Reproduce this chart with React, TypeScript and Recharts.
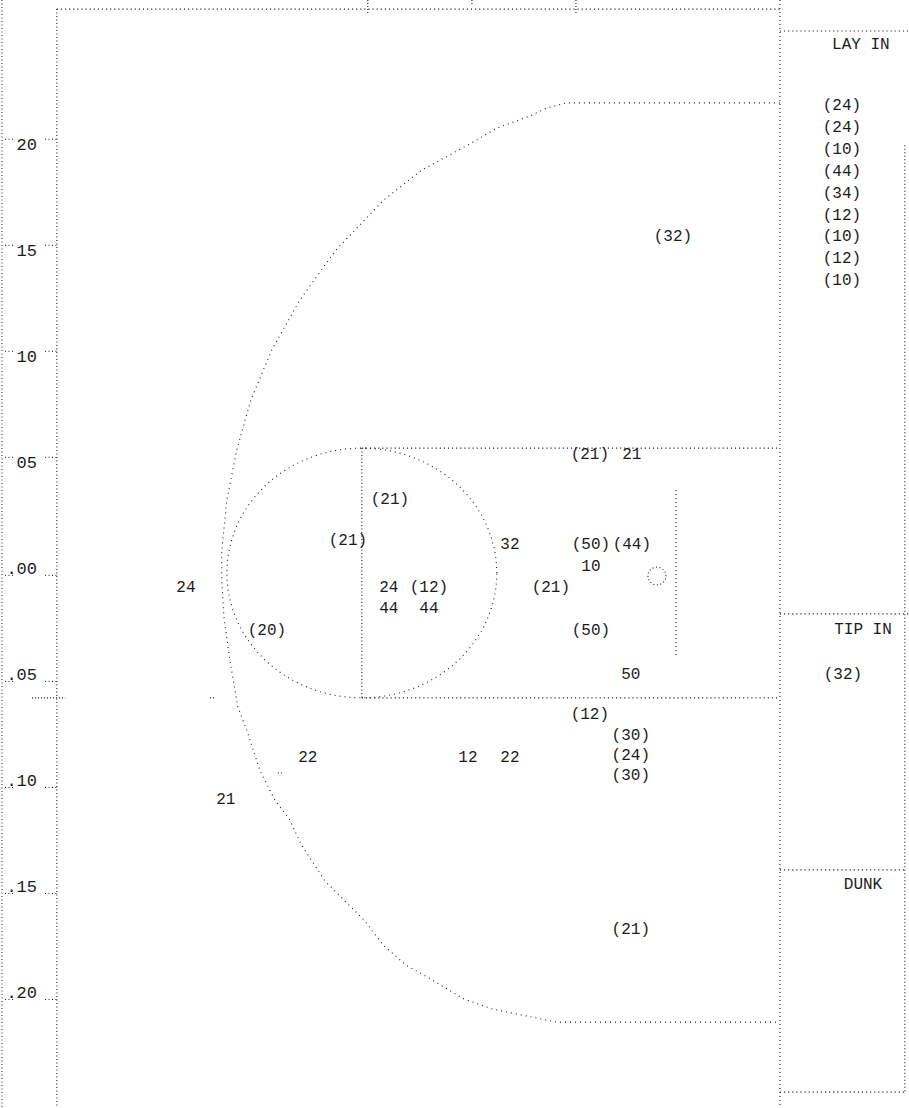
import React from 'react';
import { ComposedChart, Line, Scatter, XAxis, YAxis } from 'recharts';

// ---------- axis ----------
const yTicks = [20, 15, 10, 5, 0, -5, -10, -15, -20];
const yTickLabels = ['20', '15', '10', '05', '.00', '.05', '.10', '.15', '.20'];
const xDomain = [-31, 12];
const yDomain = [-25.4, 26.85];

// ---------- court geometry (court units, hoop near origin) ----------
const topBorder = [{ x: -28.4, y: 26.42 }, { x: 6.02, y: 26.42 }];
const leftBorder = [{ x: -28.4, y: 26.42 }, { x: -28.4, y: -25.4 }];
const baseline = [{ x: 5.88, y: 26.85 }, { x: 5.88, y: -25.4 }];
const laneTop = [{ x: -13.94, y: 5.72 }, { x: 5.88, y: 5.72 }];
const laneBottom = [{ x: -13.94, y: -6.06 }, { x: 5.88, y: -6.06 }];
const freeThrowLine = [{ x: -13.94, y: 5.72 }, { x: -13.94, y: -6.06 }];
const backboard = [{ x: 0.95, y: 3.74 }, { x: 0.95, y: -4.13 }];
const freeThrowCircle = { cx: -13.94, cy: -0.17, rx: 6.4, ry: 5.89 };
const hoop = { cx: 0.05, cy: -0.31, rx: 0.43, ry: 0.42 };
const threePointLine = [
  { x: 5.88, y: 22.0 }, { x: -4.22, y: 22.0 }, { x: -5.17, y: 21.76 }, { x: -5.97, y: 21.38 },
  { x: -7.54, y: 20.81 }, { x: -8.91, y: 20.01 }, { x: -11.1, y: 18.83 }, { x: -12.9, y: 17.42 },
  { x: -15.17, y: 15.06 }, { x: -16.88, y: 12.7 }, { x: -18.21, y: 10.35 }, { x: -19.2, y: 7.99 },
  { x: -19.87, y: 5.63 }, { x: -20.34, y: 3.27 }, { x: -20.58, y: 0.91 }, { x: -20.58, y: -0.5 },
  { x: -20.48, y: -2.24 }, { x: -20.2, y: -4.27 }, { x: -19.82, y: -6.48 }, { x: -19.35, y: -7.71 },
  { x: -18.78, y: -9.46 }, { x: -18.07, y: -10.87 }, { x: -17.35, y: -11.82 }, { x: -16.83, y: -12.95 },
  { x: -15.69, y: -14.69 }, { x: -14.6, y: -15.78 }, { x: -13.8, y: -16.58 }, { x: -12.94, y: -17.71 },
  { x: -11.85, y: -18.66 }, { x: -10.76, y: -19.27 }, { x: -9.1, y: -20.26 }, { x: -7.73, y: -20.74 },
  { x: -6.35, y: -21.02 }, { x: -4.69, y: -21.35 }, { x: 5.88, y: -21.35 },
];

// ---------- side panel ----------
const panelTop = [{ x: 5.88, y: 25.39 }, { x: 12, y: 25.39 }];
const panelRight = [{ x: 11.8, y: 20.0 }, { x: 11.8, y: -24.65 }];
const tipInDivider = [{ x: 5.88, y: -2.1 }, { x: 12, y: -2.1 }];
const dunkDivider = [{ x: 5.88, y: -14.17 }, { x: 11.8, y: -14.17 }];
const panelBottom = [{ x: 5.88, y: -24.65 }, { x: 11.8, y: -24.65 }];

// ---------- small stray marks ----------
const strayMarks = [
  [{ x: -13.66, y: 26.85 }, { x: -13.66, y: 26.2 }],
  [{ x: -8.72, y: 26.85 }, { x: -8.72, y: 26.6 }],
  [{ x: -3.79, y: 26.85 }, { x: -3.79, y: 26.2 }],
  [{ x: -29.58, y: -6.06 }, { x: -28.0, y: -6.06 }],
  [{ x: -21.14, y: -6.06 }, { x: -20.86, y: -6.06 }],
  [{ x: -17.92, y: -9.6 }, { x: -17.68, y: -9.6 }],
];

// ---------- shot labels (player numbers; parentheses = missed) ----------
const shotLabels = [
  { x: 0.81, y: 15.67, label: '(32)' },
  { x: -3.13, y: 5.4, label: '(21)' },
  { x: -1.14, y: 5.4, label: '21' },
  { x: -12.61, y: 3.27, label: '(21)' },
  { x: -14.6, y: 1.34, label: '(21)' },
  { x: -6.92, y: 1.15, label: '32' },
  { x: -3.08, y: 1.15, label: '(50)' },
  { x: -1.14, y: 1.15, label: '(44)' },
  { x: -3.08, y: 0.11, label: '10' },
  { x: -4.98, y: -0.88, label: '(21)' },
  { x: -12.66, y: -0.88, label: '24' },
  { x: -10.76, y: -0.88, label: '(12)' },
  { x: -12.66, y: -1.86, label: '44' },
  { x: -10.76, y: -1.86, label: '44' },
  { x: -22.28, y: -0.88, label: '24' },
  { x: -18.44, y: -2.9, label: '(20)' },
  { x: -3.08, y: -2.9, label: '(50)' },
  { x: -1.19, y: -4.97, label: '50' },
  { x: -3.13, y: -6.86, label: '(12)' },
  { x: -1.19, y: -7.86, label: '(30)' },
  { x: -1.19, y: -8.8, label: '(24)' },
  { x: -1.19, y: -9.75, label: '(30)' },
  { x: -16.5, y: -8.88, label: '22' },
  { x: -8.91, y: -8.88, label: '12' },
  { x: -6.92, y: -8.88, label: '22' },
  { x: -20.39, y: -10.86, label: '21' },
  { x: -1.19, y: -17.0, label: '(21)' },
];

const panelTitles = [
  { x: 9.72, y: 24.73, label: 'LAY IN' },
  { x: 9.82, y: -2.87, label: 'TIP IN' },
  { x: 9.82, y: -14.88, label: 'DUNK' },
];
const layInShots = ['(24)', '(24)', '(10)', '(44)', '(34)', '(12)', '(10)', '(12)', '(10)'];
const layInAnchor = [{ x: 8.82, y: 21.85 }];
const tipInShots = [{ x: 8.87, y: -4.97, label: '(32)' }];

// ---------- helpers ----------
const ellipsePoints = (e: { cx: number; cy: number; rx: number; ry: number }, n: number) =>
  Array.from({ length: n + 1 }, (_, i) => {
    const t = (2 * Math.PI * i) / n;
    return { x: e.cx + e.rx * Math.cos(t), y: e.cy + e.ry * Math.sin(t) };
  });

const INK = '#1c1c1c';
const FONT = "'Liberation Mono', 'DejaVu Sans Mono', monospace";
const DOTS = '1.1 3';

const renderLabel = (p: any) => (
  <text
    x={p.cx}
    y={p.cy}
    textAnchor="middle"
    dominantBaseline="central"
    fontFamily={FONT}
    fontSize={16}
    fill={INK}
  >
    {p.payload.label}
  </text>
);

const renderLayInList = (p: any) => (
  <text x={p.cx} y={p.cy} textAnchor="middle" dominantBaseline="central" fontFamily={FONT} fontSize={16} fill={INK}>
    {layInShots.map((s, i) => (
      <tspan key={i} x={p.cx} dy={i === 0 ? 0 : 21.9}>
        {s}
      </tspan>
    ))}
  </text>
);

const renderTick = (props: any) => {
  const { x, y, payload } = props;
  const v = payload.value as number;
  const lbl = yTickLabels[yTicks.indexOf(v)];
  const pos = v > 0;
  const markY = pos ? y - 6 : y + 6;
  return (
    <g>
      <line x1={x + 3} x2={x + 11} y1={markY} y2={markY} stroke={INK} strokeDasharray="1 2.5" />
      <text x={x + 35} y={y} textAnchor="end" dominantBaseline="central" fontFamily={FONT} fontSize={17} fill={INK}>
        {lbl}
      </text>
      <line x1={x + 43} x2={x + 55} y1={markY} y2={markY} stroke={INK} strokeDasharray="1 2.5" />
    </g>
  );
};

const seg = (data: { x: number; y: number }[], key: string, dash = DOTS) => (
  <Line
    key={key}
    data={data}
    dataKey="y"
    type="linear"
    stroke={INK}
    strokeWidth={1.1}
    strokeDasharray={dash}
    dot={false}
    activeDot={false}
    isAnimationActive={false}
    legendType="none"
  />
);

export default function App() {
  return (
    <div style={{ position: 'absolute', left: 0, top: 0, width: 909, height: 1108, background: '#fff' }}>
      <ComposedChart width={909} height={1108} margin={{ top: 0, right: 0, bottom: 0, left: 2 }}>
        <XAxis type="number" dataKey="x" domain={xDomain} allowDataOverflow hide />
        <YAxis
          type="number"
          dataKey="y"
          domain={yDomain}
          allowDataOverflow
          ticks={yTicks}
          interval={0}
          mirror
          tickSize={0}
          tickMargin={0}
          tickLine={false}
          axisLine={{ stroke: INK, strokeDasharray: '1 2.5' }}
          tick={renderTick}
        />
        {seg(topBorder, 'top')}
        {seg(leftBorder, 'left', '1 2.5')}
        {seg(baseline, 'base', '1 3')}
        {seg(laneTop, 'laneTop')}
        {seg(laneBottom, 'laneBottom')}
        {seg(freeThrowLine, 'ftl', '1 2.5')}
        {seg(backboard, 'bb', '1 3')}
        {seg(ellipsePoints(freeThrowCircle, 90), 'ftc', '1 4')}
        {seg(ellipsePoints(hoop, 16), 'hoop', '1 2.5')}
        {seg(threePointLine, 'three', '1 4')}
        {seg(panelTop, 'pTop')}
        {seg(panelRight, 'pRight', '1 2.5')}
        {seg(tipInDivider, 'pTip')}
        {seg(dunkDivider, 'pDunk')}
        {seg(panelBottom, 'pBottom')}
        {strayMarks.map((m, i) => seg(m, 'stray' + i, '1 2'))}
        <Scatter data={shotLabels} dataKey="y" shape={renderLabel} isAnimationActive={false} />
        <Scatter data={panelTitles} dataKey="y" shape={renderLabel} isAnimationActive={false} />
        <Scatter data={tipInShots} dataKey="y" shape={renderLabel} isAnimationActive={false} />
        <Scatter data={layInAnchor} dataKey="y" shape={renderLayInList} isAnimationActive={false} />
      </ComposedChart>
    </div>
  );
}
